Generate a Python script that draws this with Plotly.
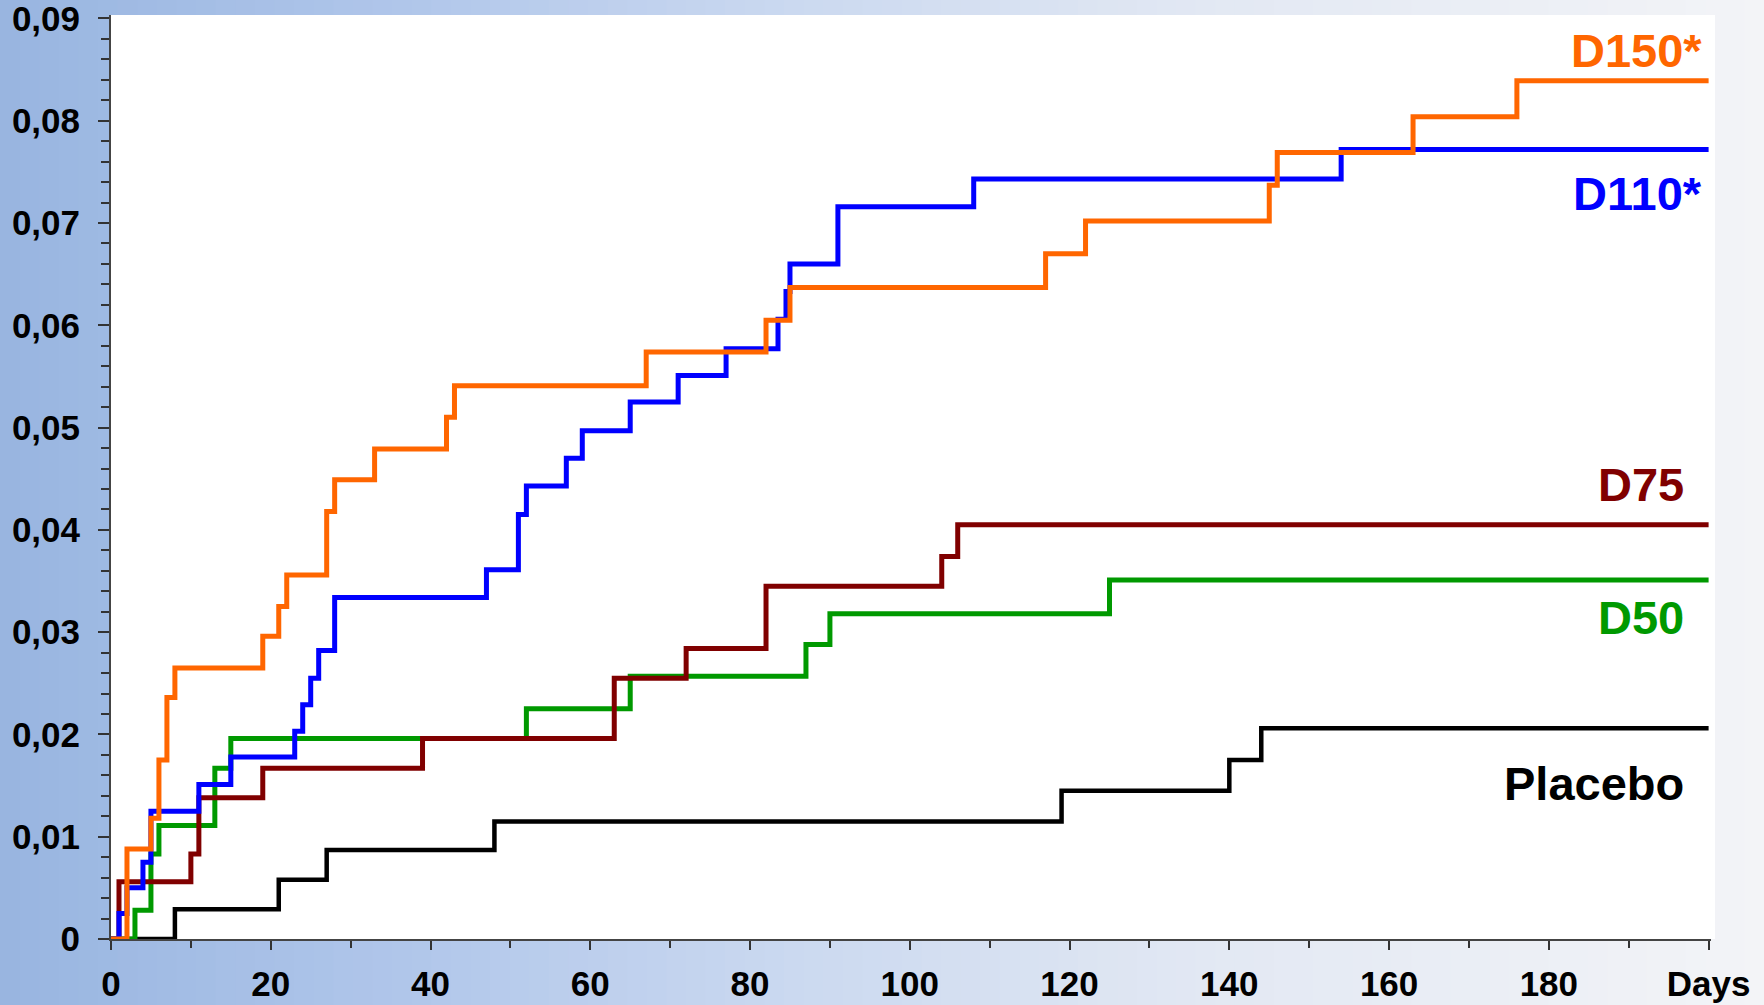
import plotly.graph_objects as go

# ---------------- data ----------------
placebo_days = [0, 8, 21, 27, 48, 119, 140, 144, 200]
placebo_vals = [0, 0.0029, 0.0058, 0.0087, 0.0115, 0.0145, 0.0175, 0.0206, 0.0206]

d50_days = [0, 3, 5, 6, 13, 15, 52, 65, 87, 90, 125, 200]
d50_vals = [0, 0.0028, 0.0083, 0.0111, 0.0167, 0.0196, 0.0225, 0.0257, 0.0288, 0.0318, 0.0351, 0.0351]

d75_days = [0, 1, 10, 11, 19, 39, 63, 72, 82, 104, 106, 200]
d75_vals = [0, 0.0056, 0.0083, 0.0138, 0.0167, 0.0196, 0.0255, 0.0284, 0.0345, 0.0374, 0.0405, 0.0405]

d110_days = [0, 1, 2, 4, 5, 11, 15, 23, 24, 25, 26, 28, 47, 51, 52, 57, 59, 65, 71, 77,
             83.5, 84.5, 85, 91, 108, 154, 200]
d110_vals = [0, 0.0025, 0.005, 0.0075, 0.0125, 0.0151, 0.0178, 0.0203, 0.0229, 0.0255, 0.0282,
             0.0334, 0.0361, 0.0415, 0.0443, 0.047, 0.0497, 0.0525, 0.0551, 0.0577,
             0.0606, 0.0633, 0.066, 0.0716, 0.0743, 0.0772, 0.0772]

d150_days = [0, 2, 5, 6, 7, 8, 19, 21, 22, 27, 28, 33, 42, 43, 67, 82, 85, 117, 122, 145,
             146, 163, 176, 200]
d150_vals = [0, 0.0088, 0.0118, 0.0175, 0.0236, 0.0265, 0.0296, 0.0325, 0.0356, 0.0418, 0.0449,
             0.0479, 0.051, 0.0541, 0.0574, 0.0605, 0.0637, 0.067, 0.0702, 0.0737, 0.0769,
             0.0804, 0.0839, 0.0839]

x_tickvals = [0, 20, 40, 60, 80, 100, 120, 140, 160, 180, 200]
x_ticktext = ["0", "20", "40", "60", "80", "100", "120", "140", "160", "180", "Days"]
y_tickvals = [0, 0.01, 0.02, 0.03, 0.04, 0.05, 0.06, 0.07, 0.08, 0.09]
y_ticktext = ["0", "0,01", "0,02", "0,03", "0,04", "0,05", "0,06", "0,07", "0,08", "0,09"]

series = [
    ("Placebo", placebo_days, placebo_vals, "#000000", 4.5),
    ("D50", d50_days, d50_vals, "#009900", 5),
    ("D75", d75_days, d75_vals, "#800000", 5),
    ("D110*", d110_days, d110_vals, "#0000FF", 5),
    ("D150*", d150_days, d150_vals, "#FF6600", 5),
]

# label positions (x, y) in data units
labels = [
    ("D150*", 199.4, 0.0869, "#FF6600"),
    ("D110*", 199.4, 0.0729, "#0000FF"),
    ("D75", 197.2, 0.0444, "#800000"),
    ("D50", 197.2, 0.0314, "#009900"),
    ("Placebo", 197.2, 0.0152, "#000000"),
]

FONT = "Arial, Liberation Sans, sans-serif"

fig = go.Figure()
for name, xs, ys, col, w in series:
    fig.add_trace(go.Scatter(x=xs, y=ys, mode="lines", name=name,
                             line=dict(color=col, width=w, shape="hv"),
                             showlegend=False, hoverinfo="skip"))

for txt, lx, ly, col in labels:
    fig.add_annotation(x=lx, y=ly, xref="x", yref="y", text=txt, showarrow=False,
                       xanchor="right", yanchor="middle",
                       font=dict(family=FONT, size=47, color=col, weight="bold"))

# background gradient (decorative)
W, H = 1764, 1005
L, R, T, B = 111, 53, 15, 66
pw, ph = W - L - R, H - T - B
stops = [(0, (152, 181, 224)), (400, (176, 198, 234)), (800, (203, 217, 240)),
         (1200, (226, 232, 243)), (1764, (243, 244, 247))]


def col_at(px):
    for (a, ca), (b, cb) in zip(stops[:-1], stops[1:]):
        if a <= px <= b:
            t = (px - a) / (b - a)
            return "rgb(%d,%d,%d)" % tuple(round(ca[i] + (cb[i] - ca[i]) * t) for i in range(3))
    return "rgb(243,244,247)"


shapes = []
n = 90
for i in range(n):
    p0 = W * i / n
    p1 = W * (i + 1) / n + 1
    shapes.append(dict(type="rect", xref="paper", yref="paper", layer="below",
                       x0=(p0 - L) / pw, x1=(p1 - L) / pw,
                       y0=-B / ph - 0.01, y1=1 + T / ph + 0.01,
                       fillcolor=col_at((p0 + p1) / 2), line=dict(width=0)))
shapes.append(dict(type="rect", xref="paper", yref="paper", layer="below",
                   x0=0, x1=1.0025, y0=0, y1=1, fillcolor="white", line=dict(width=0)))

fig.update_layout(
    width=W, height=H,
    margin=dict(l=L, r=R, t=T, b=B, autoexpand=False),
    paper_bgcolor="rgb(200,215,238)",
    plot_bgcolor="white",
    shapes=shapes,
    xaxis=dict(range=[0, 200.3], tickmode="array", tickvals=x_tickvals, ticktext=x_ticktext,
               ticks="outside", ticklen=9, tickwidth=1.5, tickcolor="#333333",
               showline=True, linecolor="#444444", linewidth=1.5, showgrid=False,
               zeroline=False, ticklabelstandoff=4, automargin=False,
               ticklabeloverflow="allow",
               tickfont=dict(family=FONT, size=35, color="black", weight="bold"),
               minor=dict(ticks="outside", ticklen=7, tickwidth=1.5, tickcolor="#333333",
                          tickmode="linear", tick0=0, dtick=10, showgrid=False)),
    yaxis=dict(range=[0, 0.09034], tickmode="array", tickvals=y_tickvals, ticktext=y_ticktext,
               ticks="outside", ticklen=11, tickwidth=1.5, tickcolor="#333333",
               showline=True, linecolor="#444444", linewidth=2, showgrid=False,
               zeroline=False, ticklabelstandoff=11, automargin=False,
               ticklabeloverflow="allow",
               tickfont=dict(family=FONT, size=35, color="black", weight="bold"),
               minor=dict(ticks="outside", ticklen=8, tickwidth=1.5, tickcolor="#333333",
                          tickmode="linear", tick0=0, dtick=0.002, showgrid=False)),
)

fig.write_html("out.html", config={"displayModeBar": False},
               post_script="document.body.style.margin='0';")
